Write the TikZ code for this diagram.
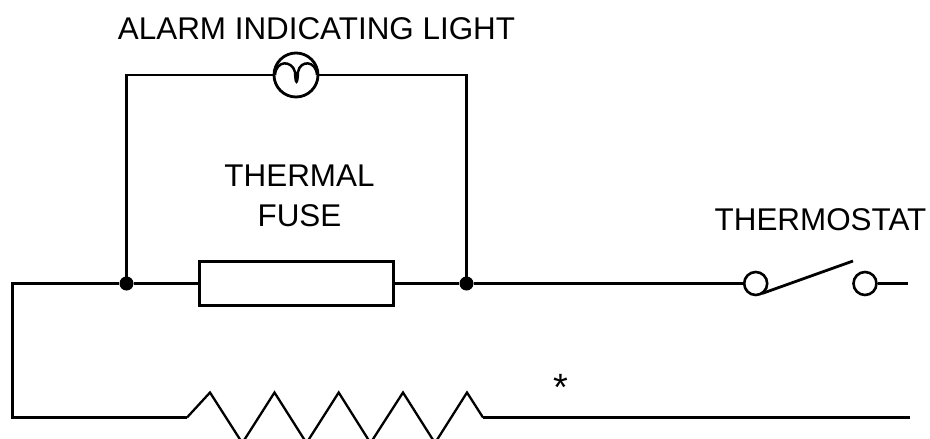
\documentclass[tikz,border=0pt]{standalone}
\usepackage{fontspec}
\setmainfont{Liberation Sans}
\begin{document}
\begin{tikzpicture}[x=1pt,y=-1pt,
  wire/.style={draw=black,line width=2.8pt,line join=miter},
  thinwire/.style={draw=black,line width=2.3pt,line join=miter},
  joint/.style={circle,fill=black,inner sep=0pt,minimum size=14pt},
  lamp/.style={circle,draw=black,line width=2.8pt,fill=white,inner sep=0pt,minimum size=44pt},
  contact/.style={circle,draw=black,line width=2.6pt,fill=white,inner sep=0pt,minimum size=23pt},
  fuse/.style={rectangle,draw=black,line width=2.8pt,fill=white,inner sep=0pt,minimum width=194pt,minimum height=44pt},
  lbl/.style={inner sep=0pt,font=\fontsize{31.4pt}{40pt}\selectfont,text=black,align=center}]
\clip (0,0) rectangle (930,439);
\coordinate (tl) at (126.5,75);
\coordinate (tr) at (466.5,75);
\coordinate (cl) at (12.5,283.5);
\coordinate (bl) at (12.5,417.5);
\coordinate (br) at (910,417.5);
\coordinate (rs) at (908,283.5);
\coordinate (zs) at (187,417.5);
\coordinate (ze) at (483,417.5);
\coordinate (armend) at (853,261);
\node[joint] (j1) at (126.5,283.5) {};
\node[joint] (j2) at (466.5,283.5) {};
\draw[wire] (j1.center) -- (tl) -- (tr) -- (j2.center);
\draw[wire] (j1) -- (199,283.5) (394,283.5) -- (j2);
\node[fuse] (fuse) at (296.5,283.5) {};
\node[lamp] (lamp) at (296,75) {};
\draw[line width=2.5pt] (275,75) .. controls (276,60) and (292,60) .. (295,72)
   .. controls (295.5,85) and (297.5,85) .. (298,72)
   .. controls (300,60) and (316,60) .. (317,75);
\node[contact] (c1) at (755.7,283.5) {};
\node[contact] (c2) at (865,283.5) {};
\draw[wire] (j2) -- (c1);
\draw[wire] (c2) -- (rs);
\draw[wire] (762,293.5) -- (armend);
\draw[wire] (j1) -- (cl) -- (bl) -- (zs);
\draw[thinwire] (zs) -- (210,392.5) -- (242.3,443) -- (274.5,392.5) -- (306.5,443) -- (338.7,392.5)
  -- (370.5,443) -- (403,392.5) -- (435,443) -- (467,392.5) -- (ze);
\draw[wire] (ze) -- (br);
\node[lbl] (alarm) at (316.5,29) {ALARM INDICATING LIGHT};
\node[lbl] (tf) at (299.5,195.5) {THERMAL\\FUSE};
\node[lbl] (ts) at (820.5,220) {THERMOSTAT};
\node[lbl,font=\fontsize{38pt}{40pt}\selectfont] (star) at (561,387) {*};
\end{tikzpicture}
\end{document}
